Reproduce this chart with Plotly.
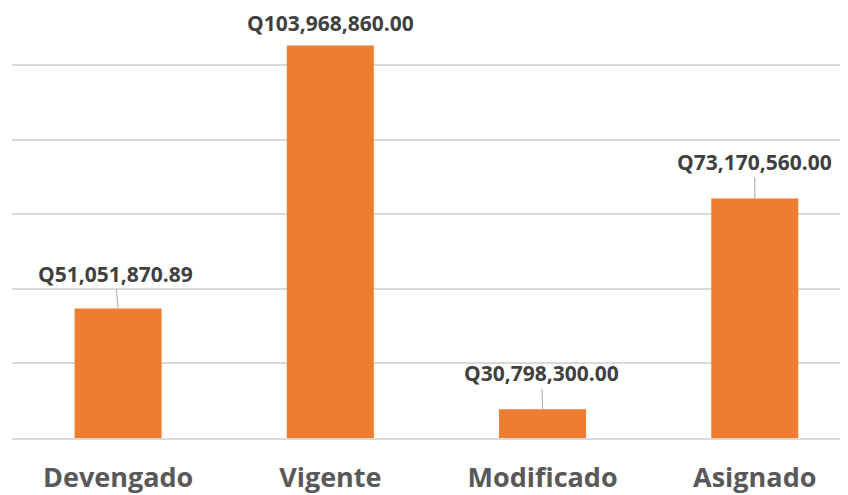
import plotly.graph_objects as go

# Data
categories = ["Devengado", "Vigente", "Modificado", "Asignado"]
values = [51051870.89, 103968860.00, 30798300.00, 73170560.00]
labels = ["Q51,051,870.89", "Q103,968,860.00", "Q30,798,300.00", "Q73,170,560.00"]

# Label offsets in pixels (ax, ay) and whether a leader line is drawn
label_ax = [-3, 0, -1, 0]
label_ay = [-35, -23, -36, -37]
leader = [True, False, True, True]

bar_color = "#ED7D31"
grid_color = "#D9D9D9"
label_color = "#404040"
cat_color = "#595959"

fig = go.Figure()

fig.add_trace(go.Bar(
    x=categories, y=values,
    marker=dict(color=bar_color, line=dict(width=0)),
    width=0.41,
    hoverinfo="x+y",
))

# Data labels, most with a thin grey leader line
for i, (c, v, t) in enumerate(zip(categories, values, labels)):
    font = dict(family="Open Sans", size=21, color=label_color, weight="bold")
    if leader[i]:
        fig.add_annotation(
            x=c, y=v, text=t, xref="x", yref="y",
            showarrow=True, arrowhead=0, arrowwidth=1, arrowcolor="#A6A6A6",
            ax=label_ax[i], ay=label_ay[i], font=font,
        )
    else:
        fig.add_annotation(
            x=c, y=v, text=t, xref="x", yref="y",
            showarrow=False, yshift=-label_ay[i], font=font,
        )

# page has an 8px body margin, so the figure is offset accordingly
fig.update_layout(
    width=848, height=495,
    margin=dict(l=4, r=0, t=0, b=65),
    plot_bgcolor="white", paper_bgcolor="white",
    showlegend=False,
)

fig.update_xaxes(
    range=[-0.5, 3.477],
    showgrid=False,
    showline=True, linecolor=grid_color, linewidth=2,
    ticks="", ticklabelstandoff=15,
    tickfont=dict(family="Open Sans", size=27, color=cat_color, weight="bold"),
)
fig.update_yaxes(
    range=[25e6, 111.52e6],
    tick0=25e6, dtick=15e6,
    showgrid=True, gridcolor=grid_color, gridwidth=2,
    showticklabels=False, zeroline=False, ticks="",
)

fig.write_html("out.html")
